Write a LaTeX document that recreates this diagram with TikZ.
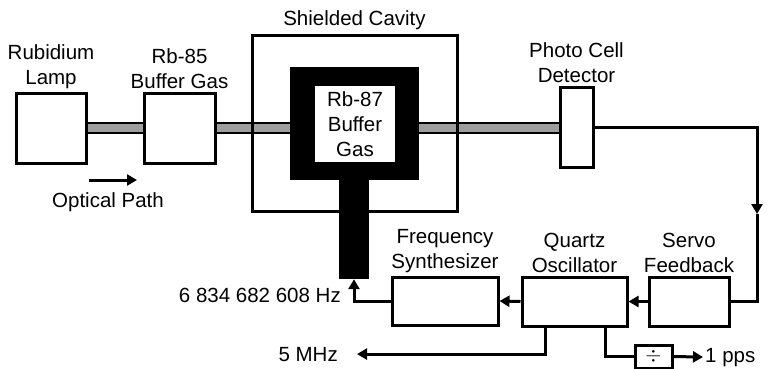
\documentclass[tikz,border=0pt]{standalone}
\usepackage{fontspec}
\setmainfont{Liberation Sans}
\usetikzlibrary{positioning,arrows.meta}

\tikzset{
  box/.style={draw, line width=3pt, fill=white, inner sep=0pt},
  title/.style={align=center, inner sep=1pt},
  beam/.style={line width=2pt, double=black!38, double distance=8pt},
  conn/.style={line width=3pt},
  tip/.style={-{Triangle[length=10pt,width=11pt]}},
}

\begin{document}
\begin{tikzpicture}[x=1pt, y=-1pt, font=\fontsize{20.5}{25}\selectfont]
\useasboundingbox (0,0) rectangle (772,368);

% Optische Strecke
\node[box, minimum width=70pt, minimum height=70pt] (lamp) at (51,128) {};
\node[box, minimum width=71pt, minimum height=70pt] (rb85) at (179.5,128) {};
\node[fill=black, inner sep=0, minimum width=129pt, minimum height=113pt] (cell) at (354.5,123.5) {};
\node[fill=black, inner sep=0, minimum width=30pt, minimum height=99pt] (stem) at (354,229.5) {};
\node[fill=white, inner sep=0, minimum width=80pt, minimum height=76pt, align=center] (rb87) at (355,124) {Rb-87\\Buffer\\Gas};
\node[box, minimum width=33pt, minimum height=80pt] (detector) at (576.5,127) {};

\draw[beam] (lamp.east) -- (rb85.west);
\draw[beam] (rb85.east) -- (rb85.east -| cell.west);
\draw[beam] (cell.east |- rb85.east) -- (detector.west |- rb85.east);

% Abschirmung
\node[draw, line width=3pt, minimum width=205pt, minimum height=176pt] (cavity) at (354.5,123) {};

% Beschriftungen oben
\node[title, above=2pt of lamp] {Rubidium\\Lamp};
\node[title, above=2pt of rb85] {Rb-85\\Buffer Gas};
\node[title, above=3pt of cavity] {Shielded Cavity};
\node[title, above=2pt of detector] {Photo Cell\\Detector};

\coordinate (op1) at (89,180);
\coordinate (op2) at (137,180);
\draw[conn, tip] (op1) -- (op2);
\node (optical) at (108,202) {Optical Path};

% Regelkreis
\node[box, minimum width=80pt, minimum height=49pt] (servo) at (689,301.5) {};
\node[box, minimum width=105pt, minimum height=49pt] (quartz) at (574.5,301.5) {};
\node[box, minimum width=106pt, minimum height=48pt] (synth) at (445,301) {};
\node[box, minimum width=37pt, minimum height=23pt] (divider) at (653.5,356.5) {$\div$};

\node[title, above=2pt of servo] {Servo\\Feedback};
\node[title, above=2pt of quartz] {Quartz\\Oscillator};
\node[title, above=2pt of synth] {Frequency\\Synthesizer};

\node[anchor=base east, inner sep=0] (hz) at (341,302) {6 834 682 608 Hz};
\node[anchor=base east, inner sep=0] (mhz) at (338,361) {5 MHz};
\node[anchor=base west, inner sep=0] (pps) at (705,362) {1 pps};

\coordinate (sense) at (757,214);
\draw[conn, tip] (detector.east) -| (sense);
\draw[conn] (sense) |- (servo.east);
\draw[conn, tip] (servo.west) -- (quartz.east);
\draw[conn, tip] (quartz.west) -- (synth.east);
\draw[conn, tip] (synth.west) -| (stem.south);
\draw[conn, tip] ([xshift=25pt]quartz.south west) |- ([xshift=19pt]mhz.east);
\draw[conn] ([xshift=85pt]quartz.south west) |- (divider.west);
\draw[conn, tip] (divider.east) -- ([xshift=-2pt]pps.west);

\end{tikzpicture}
\end{document}
